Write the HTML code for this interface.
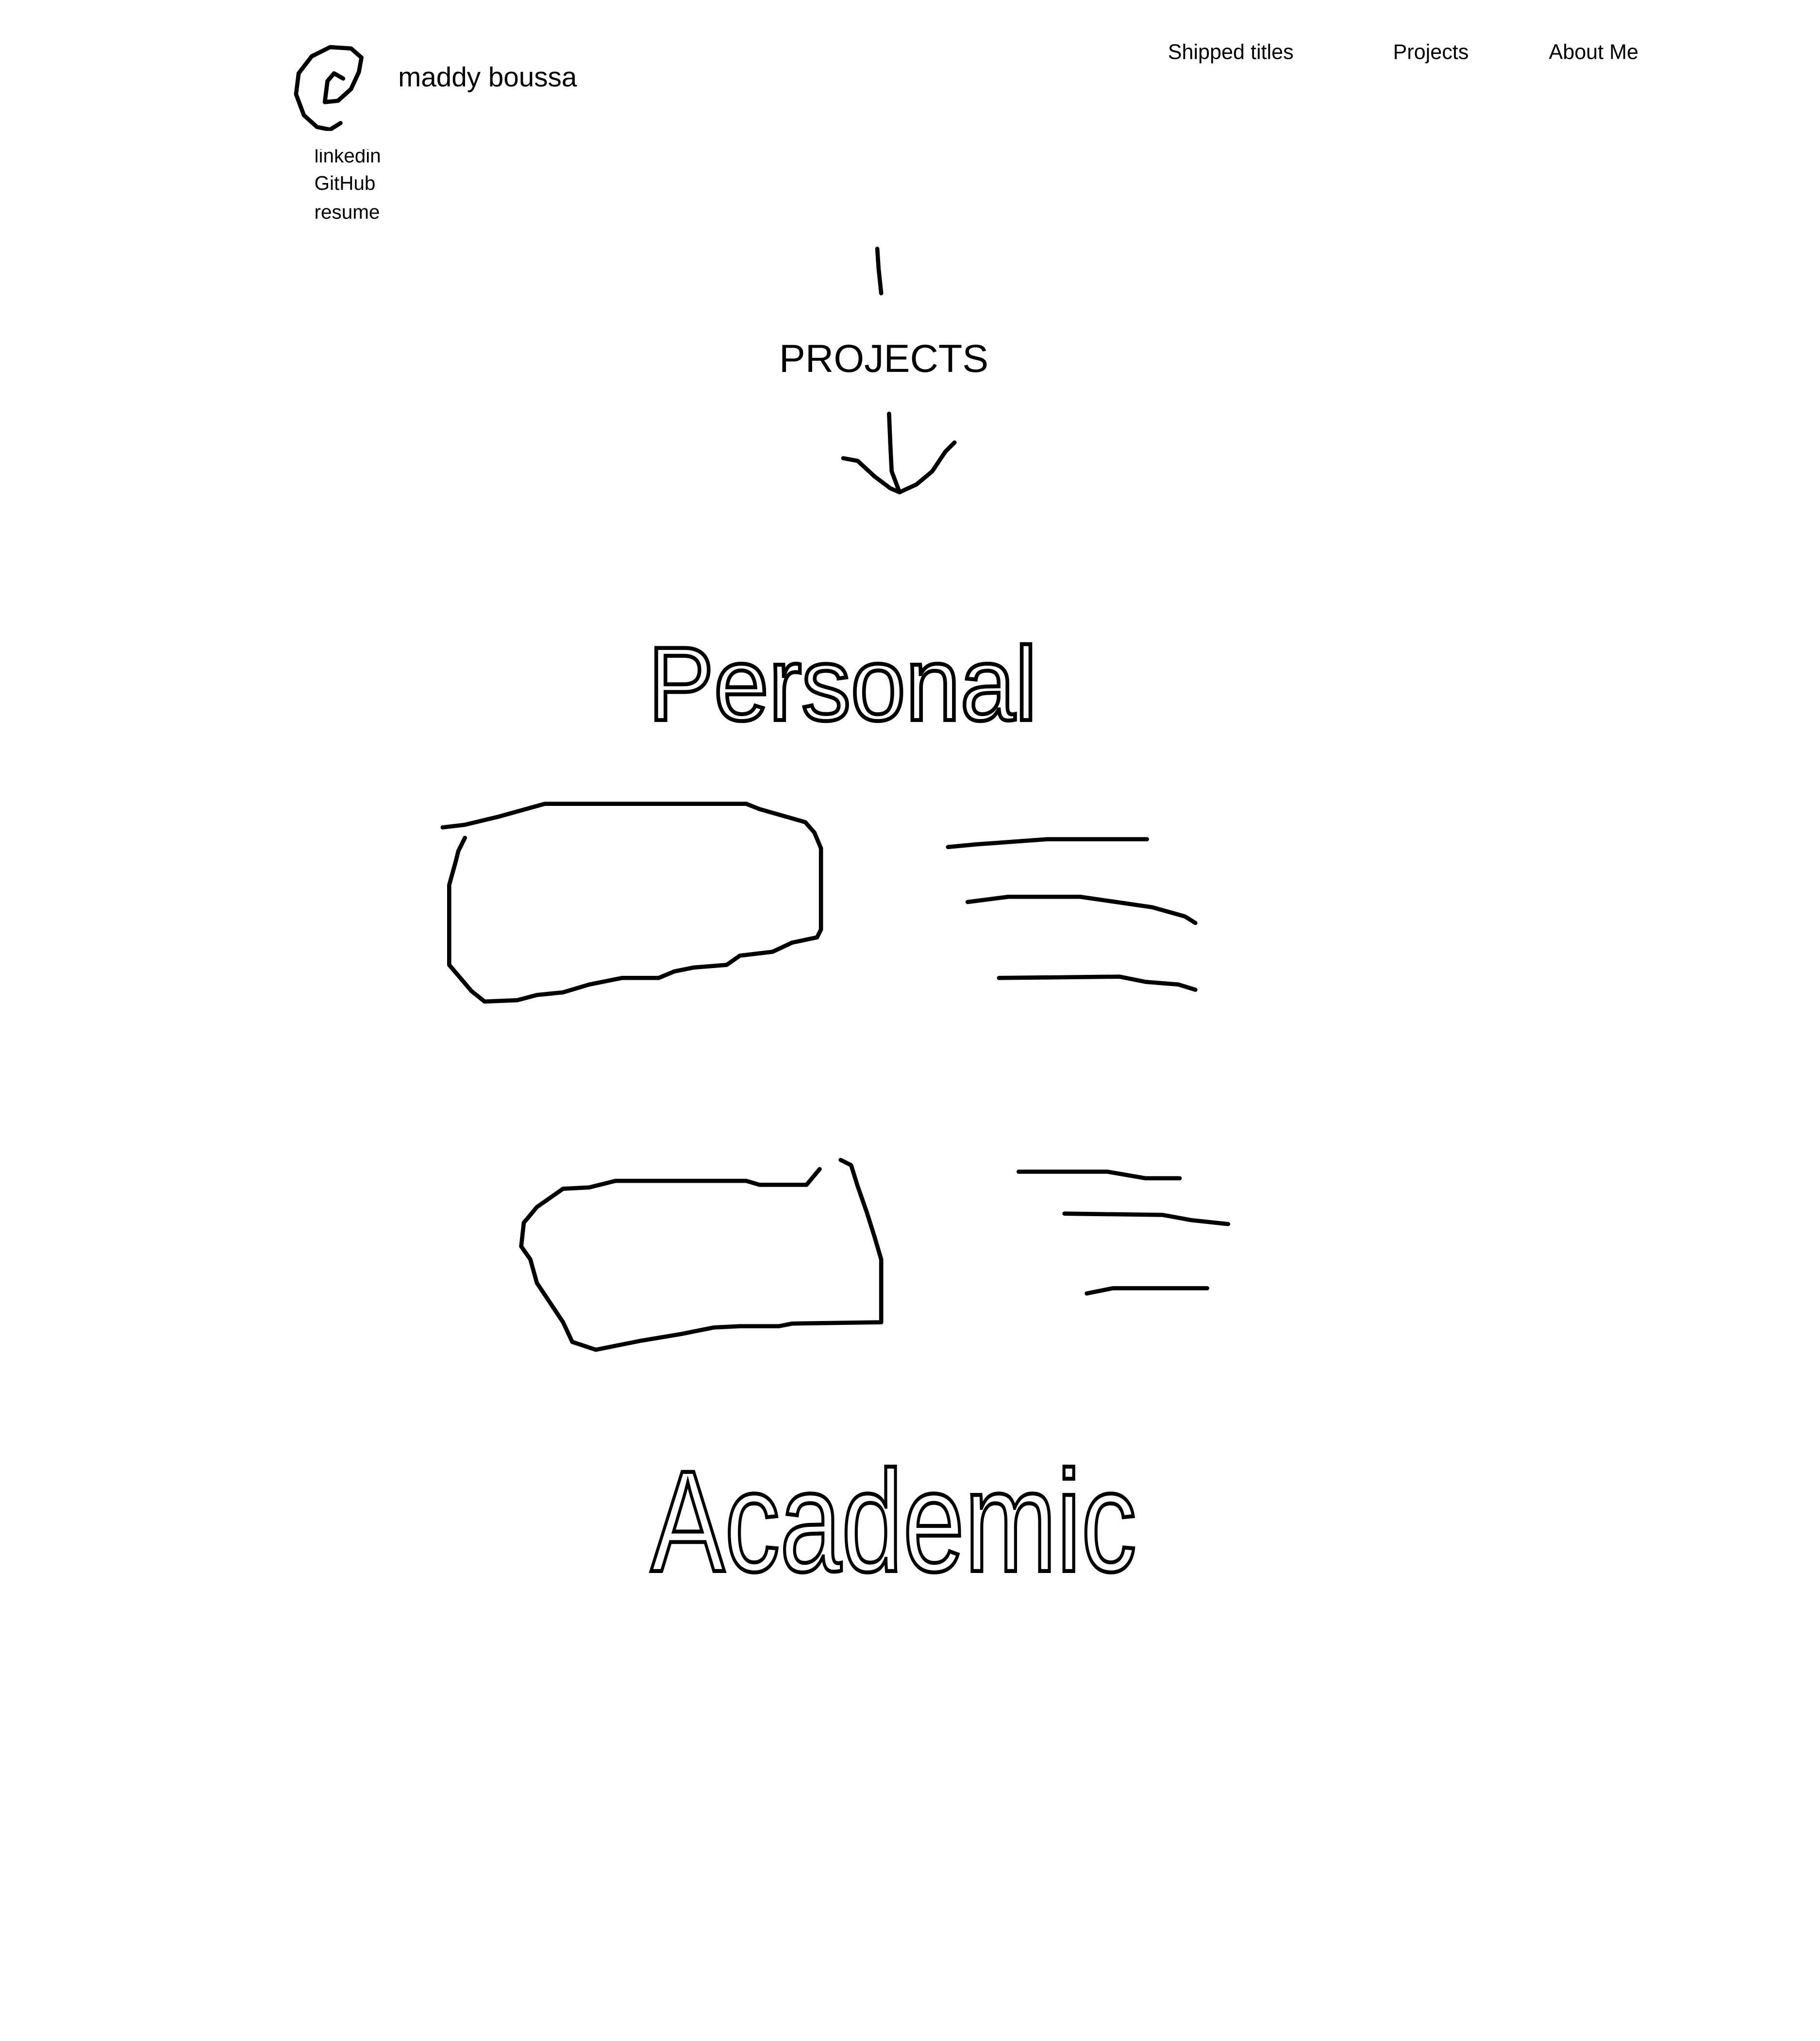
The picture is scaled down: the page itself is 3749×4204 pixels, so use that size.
<!DOCTYPE html>
<html><head><meta charset="utf-8"><style>
html,body{margin:0;padding:0;background:#fff;}
svg{display:block;}
text{font-family:"Liberation Sans",sans-serif;fill:#000;}
</style></head><body>
<svg width="3749" height="4204" viewBox="0 0 1390 1559" xmlns="http://www.w3.org/2000/svg">
<g fill="none" stroke="#000" stroke-width="3.2" stroke-linecap="round" stroke-linejoin="round">
<path d="M262,60 L255,56 L250,62 L248,78 L258,77 L268,68 L274,55 L276,44 L268,37 L252,36 L238,43 L228,56 L226,72 L232,88 L242,97 L252,99 L260,94"/>
<path d="M670,190 L671,205 L673,224"/>
<path d="M679,316 L680,340 L681,360 L687,376 M644,350 L655,352 L668,364 L680,373 L687,376 L700,370 L712,360 L722,345 L729,338"/>
<path d="M338,632 L355,630 L380,624 L416,614 L570,614 L580,618 L615,628 L622,636 L627,648 L627,710 L624,716 L605,720 L590,727 L565,730 L555,737 L530,739 L515,742 L503,747 L475,747 L450,752 L430,758 L410,760 L395,764 L370,765 L360,757 L343,737 L343,676 L348,658 L350,650 L355,640"/>
<path d="M724,647 L745,645 L800,641 L876,641 M739,689 L770,685 L825,685 L880,693 L905,700 L913,705 M763,747 L855,746 L875,750 L900,752 L913,756"/>
<path d="M626,893 L616,905 L580,905 L570,902 L470,902 L450,907 L430,908 L410,922 L400,934 L398,952 L405,962 L410,980 L420,995 L430,1010 L437,1025 L455,1031 L470,1028 L490,1024 L520,1019 L545,1014 L565,1013 L595,1013 L605,1011 L673,1010 L673,962 L668,945 L662,926 L655,906 L650,890 L642,886"/>
<path d="M778,895 L846,895 L875,900 L901,900 M813,927 L888,928 L910,932 L938,935 M830,988 L850,984 L922,984"/>
</g>
<text x="304" y="66" font-size="21">maddy boussa</text>
<text x="892" y="45" font-size="16">Shipped titles</text>
<text x="1064" y="45" font-size="16">Projects</text>
<text x="1183" y="45" font-size="16">About Me</text>
<text x="240" y="124" font-size="15">linkedin</text>
<rect x="235" y="100" width="80" height="14" fill="#fff"/>
<text x="240" y="145" font-size="15">GitHub</text>
<text x="240" y="167" font-size="15">resume</text>
<text x="675" y="284" font-size="30" text-anchor="middle">PROJECTS</text>
<text x="495" y="550" font-size="80" textLength="297" lengthAdjust="spacingAndGlyphs" stroke="#000" stroke-width="3" style="fill:none">Personal</text>
<text x="497" y="1200" font-size="110" textLength="371" lengthAdjust="spacingAndGlyphs" stroke="#000" stroke-width="3" style="fill:none">Academic</text>
</svg>
</body></html>
